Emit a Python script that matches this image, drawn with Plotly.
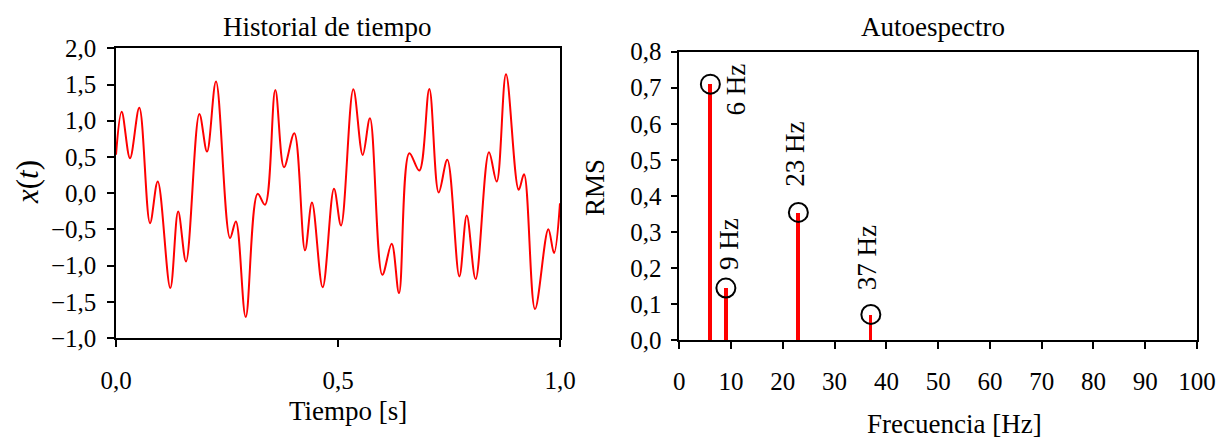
import plotly.graph_objects as go

# ---- Data ----
time_s = [0.0, 0.0128, 0.0315, 0.0525, 0.0766, 0.094, 0.1223, 0.140, 0.1577, 0.1877,
          0.2050, 0.2252, 0.2568, 0.270, 0.2921, 0.319, 0.3356, 0.3588, 0.3784, 0.4016,
          0.4257, 0.4414, 0.4655, 0.491, 0.5068, 0.5345, 0.5556, 0.572, 0.5998, 0.6209,
          0.6374, 0.6606, 0.6831, 0.7057, 0.7268, 0.7462, 0.7733, 0.79, 0.810, 0.840,
          0.8574, 0.8784, 0.907, 0.919, 0.9437, 0.9737, 0.9865, 1.0]
signal = [0.53, 1.125, 0.483, 1.18, -0.414, 0.16, -1.31, -0.254, -0.943, 1.094,
          0.574, 1.54, -0.62, -0.39, -1.71, -0.01, -0.16, 1.425, 0.358, 0.827,
          -0.79, -0.13, -1.30, 0.06, -0.446, 1.434, 0.528, 1.034, -1.127, -0.70,
          -1.38, 0.552, 0.312, 1.439, 0.01, 0.46, -1.15, -0.309, -1.187, 0.565,
          0.16, 1.64, 0.046, 0.262, -1.60, -0.497, -0.828, -0.14]

freq_hz = [6, 9, 23, 37]
rms = [0.71, 0.144, 0.354, 0.071]
peak_labels = ["6 Hz", "9 Hz", "23 Hz", "37 Hz"]

left_xtickvals = [0.0, 0.5, 1.0]
left_xticktext = ["0,0", "0,5", "1,0"]
left_ytickvals = [-2.0, -1.5, -1.0, -0.5, 0.0, 0.5, 1.0, 1.5, 2.0]
left_yticktext = ["\u22121,0", "\u22121,5", "\u22121,0", "\u22120,5", "0,0", "0,5", "1,0", "1,5", "2,0"]
right_xtickvals = [0, 10, 20, 30, 40, 50, 60, 70, 80, 90, 100]
right_xticktext = ["0", "10", "20", "30", "40", "50", "60", "70", "80", "90", "100"]
right_ytickvals = [0.0, 0.1, 0.2, 0.3, 0.4, 0.5, 0.6, 0.7, 0.8]
right_yticktext = ["0,0", "0,1", "0,2", "0,3", "0,4", "0,5", "0,6", "0,7", "0,8"]

# ---- Styling ----
W, H = 1226, 438
FONT = "Liberation Serif"
TICKSIZE = 25
TITLESIZE = 27

def px(x):
    return x / W

def py(y):
    return 1 - y / H

fig = go.Figure()

fig.add_trace(go.Scatter(
    x=time_s, y=signal, mode="lines",
    line=dict(color="#ff0000", width=2, shape="spline", smoothing=1),
    xaxis="x", yaxis="y", showlegend=False, hoverinfo="skip"))

fig.add_trace(go.Bar(
    x=freq_hz, y=rms, width=0.75,
    marker=dict(color="#ff0000", line=dict(width=0)),
    xaxis="x2", yaxis="y2", showlegend=False))

fig.add_trace(go.Scatter(
    x=freq_hz, y=rms, mode="markers",
    marker=dict(symbol="circle-open", size=19, color="black",
                line=dict(width=2, color="black")),
    xaxis="x2", yaxis="y2", showlegend=False, cliponaxis=False))

axis_common = dict(
    showline=True, linecolor="black", linewidth=1.5, mirror=True,
    ticks="outside", ticklen=7, tickwidth=1.5, tickcolor="black",
    showgrid=False, zeroline=False, automargin=False,
    tickfont=dict(family=FONT, size=TICKSIZE, color="black"),
    tickmode="array", fixedrange=True)

fig.update_layout(
    width=W, height=H,
    margin=dict(l=0, r=0, t=0, b=0),
    paper_bgcolor="white", plot_bgcolor="white",
    showlegend=False, bargap=0,
    font=dict(family=FONT, color="black"),
    xaxis=dict(domain=[px(116), px(560)], range=[0, 1], anchor="y",
               tickvals=left_xtickvals, ticktext=left_xticktext,
               ticklabelstandoff=12, **axis_common),
    yaxis=dict(domain=[py(338), py(48.3)], range=[-2, 2], anchor="x",
               tickvals=left_ytickvals, ticktext=left_yticktext,
               ticklabelstandoff=6, **axis_common),
    xaxis2=dict(domain=[px(679.3), px(1197)], range=[0, 100], anchor="y2",
                tickvals=right_xtickvals, ticktext=right_xticktext,
                ticklabelstandoff=11, **axis_common),
    yaxis2=dict(domain=[py(340), py(51.7)], range=[0, 0.8], anchor="x2",
                tickvals=right_ytickvals, ticktext=right_yticktext,
                ticklabelstandoff=4, **axis_common),
)

def text_ann(x, y, text, size=TITLESIZE, angle=0):
    fig.add_annotation(x=px(x), y=py(y), xref="paper", yref="paper",
                       text=text, showarrow=False, textangle=angle,
                       xanchor="center", yanchor="middle",
                       font=dict(family=FONT, size=size, color="black"))

text_ann(327, 27, "Historial de tiempo")
text_ann(933, 27, "Autoespectro")
text_ann(348, 411, "Tiempo [s]")
text_ann(955, 424, "Frecuencia [Hz]")
text_ann(27, 182, "<i>x</i>(<i>t</i>)", size=31, angle=-90)
text_ann(595, 188, "RMS", angle=-90)

# peak labels, offset in pixels from each peak
label_shift = [(26, -5), (3, 44), (-3, 58), (-3, 57)]
for f, r, lab, (dx, dy) in zip(freq_hz, rms, peak_labels, label_shift):
    fig.add_annotation(x=f, y=r, xref="x2", yref="y2", text=lab,
                       showarrow=False, textangle=-90,
                       xanchor="center", yanchor="middle",
                       xshift=dx, yshift=dy,
                       font=dict(family=FONT, size=TITLESIZE, color="black"))

fig.write_html("out.html",
               config={"displayModeBar": False},
               post_script="document.body.style.margin='0';"
                           "document.body.style.overflow='hidden';")
